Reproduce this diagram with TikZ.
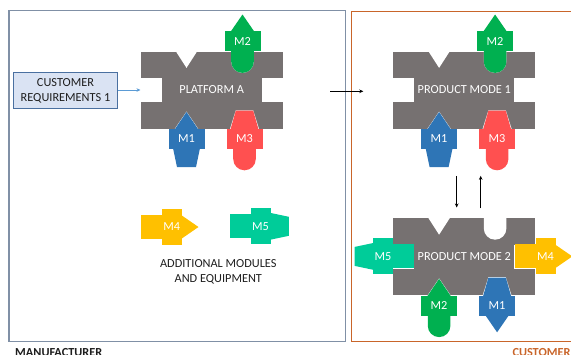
\documentclass[tikz,border=0pt]{standalone}
\usepackage{fontspec}
\setmainfont{Carlito}
\usetikzlibrary{arrows.meta,calc}

\definecolor{platgray}{HTML}{767171}
\definecolor{modblue}{HTML}{2E75B6}
\definecolor{modgreen}{HTML}{00B050}
\definecolor{modred}{HTML}{FF5050}
\definecolor{modyellow}{HTML}{FFC000}
\definecolor{modteal}{HTML}{00CC99}
\definecolor{custorange}{HTML}{C9652A}
\definecolor{manufline}{HTML}{8090A6}
\definecolor{reqfill}{HTML}{DAE3F3}
\definecolor{reqline}{HTML}{4A70A0}
\definecolor{reqarrow}{HTML}{5B9BD5}
\definecolor{textdark}{HTML}{1E1E1E}

\tikzset{
  % local frames: first axis runs along the platform edge, second points outward
  edgeup/.style={x={(1pt,0pt)},y={(0pt,1pt)}},
  edgedown/.style={x={(1pt,0pt)},y={(0pt,-1pt)}},
  edgeright/.style={x={(0pt,1pt)},y={(1pt,0pt)}},
  edgeleft/.style={x={(0pt,1pt)},y={(-1pt,0pt)}},
  platform/.style={fill=platgray, minimum width=142pt, minimum height=77pt,
    inner sep=0pt, text=white, font=\fontsize{12.3}{14}\selectfont},
  mlabel/.style={text=white, font=\fontsize{12.3}{14}\selectfont, inner sep=0pt},
  plainlabel/.style={text=textdark, font=\fontsize{12.3}{15}\selectfont, align=center, inner sep=0pt},
  reqbox/.style={draw=reqline, line width=1pt, fill=reqfill, minimum width=104.4pt,
    minimum height=35.6pt, inner sep=0pt, align=center, text=textdark,
    font=\fontsize{12.3}{15}\selectfont},
  flowarrow/.style={-{Stealth[length=4pt,width=3.6pt]}, line width=0.8pt, black},
  reqarrowstyle/.style={-{Stealth[length=4pt,width=3.6pt]}, line width=0.9pt, reqarrow},
  sidelabel/.style={font=\bfseries\fontsize{12.3}{14}\selectfont, inner sep=0pt, anchor=base west},
}

% module parts, drawn in the local edge frame (v = 0 on the platform edge)
\newcommand\partcross{\fill (-18,0) rectangle (18,20);}
\newcommand\ptriin{\fill (-11.7,0.6) -- (0,-16.7) -- (11.7,0.6) -- cycle;}
\newcommand\ptriout{\fill (-12,19.4) -- (0,36.8) -- (12,19.4) -- cycle;}
\newcommand\proundin{\fill (-11.3,0.6) -- (-11.3,-10.3) .. controls (-11.3,-16.54) and (-6.24,-21.6) .. (0,-21.6) .. controls (6.24,-21.6) and (11.3,-16.54) .. (11.3,-10.3) -- (11.3,0.6) -- cycle;}
\newcommand\proundout{\fill (-11.3,19.4) -- (-11.3,30.3) .. controls (-11.3,36.54) and (-6.24,41.6) .. (0,41.6) .. controls (6.24,41.6) and (11.3,36.54) .. (11.3,30.3) -- (11.3,19.4) -- cycle;}
\newcommand\ptrapin{\fill (-14,0.6) -- (-8.7,-18) -- (8.7,-18) -- (14,0.6) -- cycle;}
\newcommand\ptrapout{\fill (-13.5,19.4) -- (-9.5,38.4) -- (9.5,38.4) -- (13.5,19.4) -- cycle;}
\newcommand\pstemin{\fill (-12,0.6) rectangle (12,-21);}

% #1 anchor point, #2 frame, #3 colour, #4 inner part, #5 outer part, #6 text, #7 name
\newcommand\modpiece[7]{%
  \begin{scope}[shift={#1}, #2, fill=#3]
    #4 \partcross #5
    \node[mlabel] (#7) at (0,10) {#6};
  \end{scope}}

% white sockets cut into a platform
\newcommand\sockets[1]{%
  \begin{scope}[shift={(#1.north west)}]
    \fill[white] (35,-0.5) -- (46,16.6) -- (57,-0.5) -- cycle;
    \fill[white] (90.7,-0.5) -- (90.7,10.3) .. controls (90.7,16.54) and (95.76,21.6) .. (102,21.6)
      .. controls (108.24,21.6) and (113.3,16.54) .. (113.3,10.3) -- (113.3,-0.5) -- cycle;
    \fill[white] (-0.5,26.5) rectangle (21,50.5);
    \fill[white] (121,26.5) rectangle (142.5,50.5);
    \fill[white] (34.3,77.5) -- (46,60.3) -- (57.7,77.5) -- cycle;
    \fill[white] (89.5,77.5) -- (95.3,59) -- (112.7,59) -- (118.5,77.5) -- cycle;
  \end{scope}}

\begin{document}
\begin{tikzpicture}[x=1pt, y=-1pt]
  \useasboundingbox (0,0) rectangle (571,354);

  % frames of the two domains
  \draw[manufline, line width=1.2pt] (9,10.7) rectangle (345.7,341.7);
  \draw[custorange, line width=1pt] (351,11) rectangle (578,341.3);
  \node[sidelabel, text=textdark] (manlbl) at (15,356) {MANUFACTURER};
  \node[sidelabel, text=custorange] (custlbl) at (512.3,356) {CUSTOMER};

  % platforms
  \node[platform] (pa) at (211.7,90) {PLATFORM A};
  \node[platform] (pm1) at (464.3,90) {PRODUCT MODE 1};
  \node[platform] (pm2) at (464.3,256.8) {PRODUCT MODE 2};
  \sockets{pa}
  \sockets{pm1}
  \sockets{pm2}

  % modules fitted to platform A
  \modpiece{($(pa.north west)+(102,0)$)}{edgeup}{modgreen}{\proundin}{\ptriout}{M2}{pam2}
  \modpiece{($(pa.south west)+(46,0)$)}{edgedown}{modblue}{\ptriin}{\ptrapout}{M1}{pam1}
  \modpiece{($(pa.south west)+(104,0)$)}{edgedown}{modred}{\ptrapin}{\proundout}{M3}{pam3}

  % modules fitted to product mode 1
  \modpiece{($(pm1.north west)+(102,0)$)}{edgeup}{modgreen}{\proundin}{\ptriout}{M2}{pm1m2}
  \modpiece{($(pm1.south west)+(46,0)$)}{edgedown}{modblue}{\ptriin}{\ptrapout}{M1}{pm1m1}
  \modpiece{($(pm1.south west)+(104,0)$)}{edgedown}{modred}{\ptrapin}{\proundout}{M3}{pm1m3}

  % modules fitted to product mode 2
  \modpiece{($(pm2.north west)+(0,38.3)$)}{edgeleft}{modteal}{\pstemin}{\ptrapout}{M5}{pm2m5}
  \modpiece{($(pm2.north east)+(0,38.3)$)}{edgeright}{modyellow}{\pstemin}{\ptriout}{M4}{pm2m4}
  \modpiece{($(pm2.south west)+(46,0)$)}{edgedown}{modgreen}{\ptriin}{\proundout}{M2}{pm2m2}
  \modpiece{($(pm2.south west)+(104,0)$)}{edgedown}{modblue}{\ptrapin}{\ptriout}{M1}{pm2m1}

  % spare modules
  \modpiece{(161.7,227)}{edgeright}{modyellow}{\pstemin}{\ptriout}{M4}{spm4}
  \modpiece{(250.5,226.3)}{edgeright}{modteal}{\pstemin}{\ptrapout}{M5}{spm5}
  \node[plainlabel] (addlbl) at (218.3,271.5) {ADDITIONAL MODULES\\AND EQUIPMENT};

  % requirements input
  \node[reqbox] (req) at (65.5,90.5) {CUSTOMER\\REQUIREMENTS 1};
  \draw[reqarrowstyle] (req.east |- pa.west) -- (pa.west);

  % transitions
  \coordinate (t1s) at (330,91.3);
  \coordinate (t1e) at (363.3,91.3);
  \draw[flowarrow] (t1s) -- (t1e);
  \coordinate (dns) at (456.7,175.8);
  \coordinate (dne) at (456.7,207.5);
  \draw[flowarrow] (dns) -- (dne);
  \coordinate (ups) at (480.7,208.3);
  \coordinate (upe) at (480.7,175.8);
  \draw[flowarrow] (ups) -- (upe);
\end{tikzpicture}
\end{document}
